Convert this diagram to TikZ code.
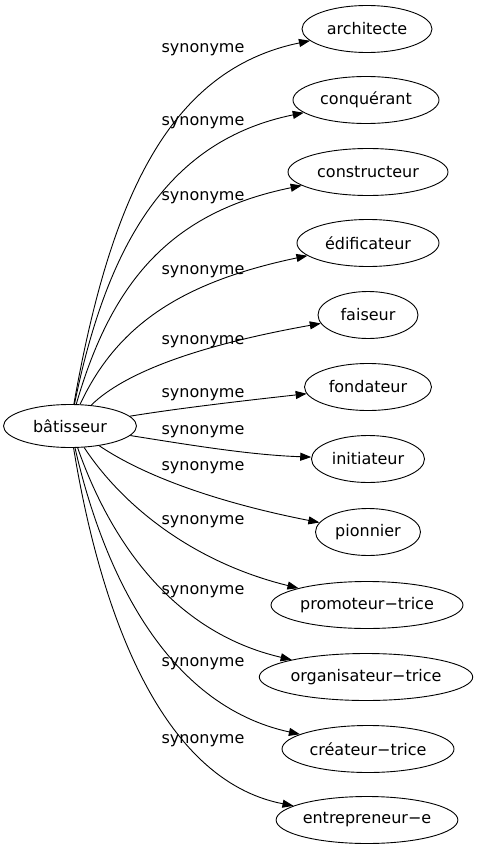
\documentclass[tikz,border=0pt]{standalone}
\usepackage{fontspec}
\setmainfont{DejaVu Sans}
\usetikzlibrary{arrows.meta,shapes.geometric}
\begin{document}
\begin{tikzpicture}[x=1pt,y=-1pt,
  nd/.style={draw,ellipse,line width=0.9pt,minimum height=47pt,inner sep=0pt,font=\fontsize{16}{18}\selectfont},
  lbl/.style={font=\fontsize{16}{18}\selectfont,inner sep=0pt},
  edge/.style={line width=0.9pt,-{Triangle[length=11pt,width=8pt]}}]
\useasboundingbox (0,0) rectangle (477,851);
\node[nd,minimum width=133pt,minimum height=43pt] (b) at (70,426) {bâtisseur};
\node[nd,minimum width=130pt] (t1) at (367,29) {architecte};
\node[nd,minimum width=146pt] (t2) at (366,100) {conquérant};
\node[nd,minimum width=160pt] (t3) at (368,172) {constructeur};
\node[nd,minimum width=142pt] (t4) at (368,243) {édificateur};
\node[nd,minimum width=100pt] (t5) at (368,315) {faiseur};
\node[nd,minimum width=127pt] (t6) at (368,387) {fondateur};
\node[nd,minimum width=113pt] (t7) at (368,459) {initiateur};
\node[nd,minimum width=105pt] (t8) at (368,532) {pionnier};
\node[nd,minimum width=192pt] (t9) at (367,605) {promoteur−trice};
\node[nd,minimum width=212pt] (t10) at (366,677) {organisateur−trice};
\node[nd,minimum width=172pt] (t11) at (368,749) {créateur−trice};
\node[nd,minimum width=181pt] (t12) at (367,820) {entrepreneur−e};
\node[lbl] (l1) at (203,50) {synonyme};
\node[lbl] (l2) at (203,123) {synonyme};
\node[lbl] (l3) at (203,198) {synonyme};
\node[lbl] (l4) at (203,272) {synonyme};
\node[lbl] (l5) at (203,342) {synonyme};
\node[lbl] (l6) at (203,395) {synonyme};
\node[lbl] (l7) at (203,432) {synonyme};
\node[lbl] (l8) at (203,468) {synonyme};
\node[lbl] (l9) at (203,522) {synonyme};
\node[lbl] (l10) at (203,592) {synonyme};
\node[lbl] (l11) at (203,664) {synonyme};
\node[lbl] (l12) at (203,741) {synonyme};
\draw[edge] (b) .. controls (110,200) and (168,70) .. (t1);
\draw[edge] (b) .. controls (108,240) and (170,140) .. (t2);
\draw[edge] (b) .. controls (112,280) and (172,212) .. (t3);
\draw[edge] (b) .. controls (117,325) and (182,282) .. (t4);
\draw[edge] (b) .. controls (125,372) and (200,345) .. (t5);
\draw[edge] (b) .. controls (180,408) and (250,400) .. (t6);
\draw[edge] (b) .. controls (190,445) and (250,455) .. (t7);
\draw[edge] (b) .. controls (150,480) and (230,505) .. (t8);
\draw[edge] (b) .. controls (122,505) and (192,562) .. (t9);
\draw[edge] (b) .. controls (110,540) and (172,632) .. (t10);
\draw[edge] (b) .. controls (103,570) and (165,705) .. (t11);
\draw[edge] (b) .. controls (100,610) and (160,780) .. (t12);
\end{tikzpicture}
\end{document}
